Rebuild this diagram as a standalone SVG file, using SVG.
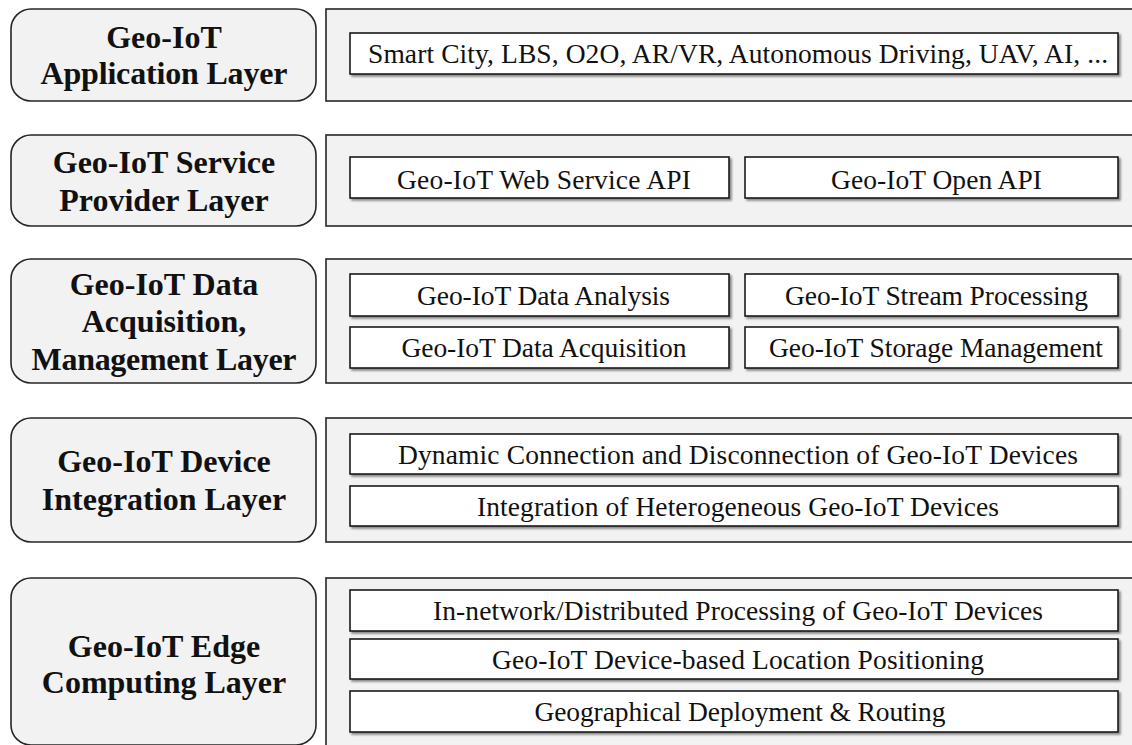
<svg xmlns="http://www.w3.org/2000/svg" width="1132" height="745" viewBox="0 0 1132 745">
  <defs>
    <filter id="shadow" x="-5%" y="-20%" width="110%" height="150%">
      <feGaussianBlur in="SourceAlpha" stdDeviation="1.2"/>
      <feOffset dx="1.5" dy="2" result="b"/>
      <feComponentTransfer><feFuncA type="linear" slope="0.45"/></feComponentTransfer>
      <feMerge><feMergeNode/><feMergeNode in="SourceGraphic"/></feMerge>
    </filter>
  </defs>
  <style>
    .layer { fill: #f2f2f2; stroke: #262626; stroke-width: 1.6; }
    .panel { fill: #f2f2f2; stroke: #262626; stroke-width: 1.6; }
    .item { fill: #ffffff; stroke: #1a1a1a; stroke-width: 1.6; filter: url(#shadow); }
    .title { font-family: "Liberation Serif", "Times New Roman", serif; font-weight: bold; font-size: 32px; fill: #111; text-anchor: middle; }
    .label { font-family: "Liberation Serif", "Times New Roman", serif; font-size: 27.5px; fill: #111; text-anchor: middle; }
  </style>
  <rect width="1132" height="745" fill="#ffffff"/>

  <!-- Application layer -->
  <g id="application-layer">
    <rect class="layer" x="11" y="9" width="305" height="92" rx="20"/>
    <text class="title" x="164" y="48">Geo-IoT</text>
    <text class="title" x="164" y="84" textLength="247" lengthAdjust="spacing">Application Layer</text>
    <rect class="panel" x="326" y="9" width="808" height="92"/>
    <rect class="item" x="350" y="33" width="768" height="41"/>
    <text class="label" x="738" y="63" textLength="740" lengthAdjust="spacing">Smart City, LBS, O2O, AR/VR, Autonomous Driving, UAV, AI, ...</text>
  </g>

  <!-- Service provider layer -->
  <g id="service-layer">
    <rect class="layer" x="11" y="135" width="305" height="91" rx="20"/>
    <text class="title" x="164" y="173">Geo-IoT Service</text>
    <text class="title" x="164" y="211">Provider Layer</text>
    <rect class="panel" x="326" y="135" width="808" height="91"/>
    <rect class="item" x="350" y="157" width="379" height="41"/>
    <text class="label" x="544" y="189" textLength="294" lengthAdjust="spacing">Geo-IoT Web Service API</text>
    <rect class="item" x="745" y="157" width="373" height="41"/>
    <text class="label" x="936.5" y="189" textLength="211" lengthAdjust="spacing">Geo-IoT Open API</text>
  </g>

  <!-- Data acquisition / management layer -->
  <g id="data-layer">
    <rect class="layer" x="11" y="259" width="305" height="124" rx="20"/>
    <text class="title" x="164" y="295">Geo-IoT Data</text>
    <text class="title" x="164" y="332">Acquisition,</text>
    <text class="title" x="164" y="370" textLength="265" lengthAdjust="spacing">Management Layer</text>
    <rect class="panel" x="326" y="259" width="808" height="124"/>
    <rect class="item" x="350" y="274" width="379" height="42"/>
    <text class="label" x="543.5" y="304.5" textLength="253" lengthAdjust="spacing">Geo-IoT Data Analysis</text>
    <rect class="item" x="745" y="274" width="373" height="42"/>
    <text class="label" x="936.5" y="304.5" textLength="303" lengthAdjust="spacing">Geo-IoT Stream Processing</text>
    <rect class="item" x="350" y="327" width="379" height="41"/>
    <text class="label" x="544" y="356.5" textLength="285" lengthAdjust="spacing">Geo-IoT Data Acquisition</text>
    <rect class="item" x="745" y="327" width="373" height="41"/>
    <text class="label" x="936" y="356.5" textLength="334" lengthAdjust="spacing">Geo-IoT Storage Management</text>
  </g>

  <!-- Device integration layer -->
  <g id="device-layer">
    <rect class="layer" x="11" y="418" width="305" height="124" rx="20"/>
    <text class="title" x="164" y="472">Geo-IoT Device</text>
    <text class="title" x="164" y="510">Integration Layer</text>
    <rect class="panel" x="326" y="418" width="808" height="124"/>
    <rect class="item" x="350" y="434" width="768" height="40"/>
    <text class="label" x="738" y="463.5" textLength="680" lengthAdjust="spacing">Dynamic Connection and Disconnection of Geo-IoT Devices</text>
    <rect class="item" x="350" y="486" width="768" height="40"/>
    <text class="label" x="738" y="515.5" textLength="522" lengthAdjust="spacing">Integration of Heterogeneous Geo-IoT Devices</text>
  </g>

  <!-- Edge computing layer -->
  <g id="edge-layer">
    <rect class="layer" x="11" y="578" width="305" height="167" rx="20"/>
    <text class="title" x="164" y="657">Geo-IoT Edge</text>
    <text class="title" x="164" y="693">Computing Layer</text>
    <rect class="panel" x="326" y="578" width="808" height="180"/>
    <rect class="item" x="350" y="590" width="768" height="41"/>
    <text class="label" x="738" y="620" textLength="610" lengthAdjust="spacing">In-network/Distributed Processing of Geo-IoT Devices</text>
    <rect class="item" x="350" y="639" width="768" height="40"/>
    <text class="label" x="738" y="668.5" textLength="492" lengthAdjust="spacing">Geo-IoT Device-based Location Positioning</text>
    <rect class="item" x="350" y="691" width="768" height="41"/>
    <text class="label" x="740" y="721" textLength="411" lengthAdjust="spacing">Geographical Deployment &amp; Routing</text>
  </g>

  <!-- connectors: none between layers -->
  <g id="connectors"/>
</svg>
